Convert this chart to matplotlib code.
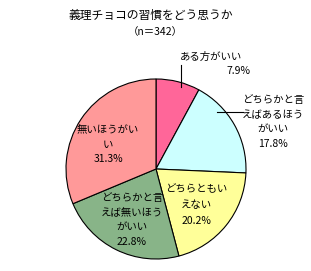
import matplotlib.pyplot as plt

plt.rcParams['font.family'] = ['Noto Sans CJK JP', 'DejaVu Sans']

title = "義理チョコの習慣をどう思うか"
subtitle = "（n＝342）"
labels = ["ある方がいい", "どちらかと言\nえばあるほう\nがいい", "どちらともい\nえない",
          "どちらかと言\nえば無いほう\nがいい", "無いほうがい\nい"]
shares = [7.9, 17.8, 20.2, 22.8, 31.3]
colors = ["#FF6699", "#CCFFFF", "#FFFF99", "#88B488", "#FF9999"]

W, H = 311, 271
fig = plt.figure(figsize=(W / 100, H / 100), dpi=100)
ax = fig.add_axes([0, 0, 1, 1])

cx, cy, r = 156, H - 169, 90
ax.pie(shares, colors=colors, startangle=90, counterclock=False,
       center=(cx, cy), radius=r,
       wedgeprops=dict(edgecolor="black", linewidth=0.8))
ax.set_xlim(0, W)
ax.set_ylim(0, H)
ax.set_aspect("equal")
ax.axis("off")


def py(y):
    return H - y


fs = 7.5
ax.text(151, py(15), title, ha="center", va="center", fontsize=8.5)
ax.text(155, py(32), subtitle, ha="center", va="center", fontsize=7.5)

# outside labels with leader lines
ax.plot([181, 181], [py(65), py(87)], color="black", lw=0.8)
ax.text(180, py(57), labels[0], ha="left", va="center", fontsize=fs)
ax.text(250, py(71), f"{shares[0]}%", ha="right", va="center", fontsize=fs)

ax.plot([217, 243], [py(112), py(112)], color="black", lw=0.8)
ax.text(273, py(122), labels[1] + f"\n{shares[1]}%", ha="center", va="center",
        fontsize=fs, linespacing=1.55)

# inside labels
ax.text(196, py(205), labels[2] + f"\n{shares[2]}%", ha="center", va="center",
        fontsize=fs, linespacing=1.75)
ax.text(132, py(220), labels[3] + f"\n{shares[3]}%", ha="center", va="center",
        fontsize=fs, linespacing=1.55)
ax.text(108, py(145), labels[4] + f"\n{shares[4]}%", ha="center", va="center",
        fontsize=fs, linespacing=1.55)

fig.savefig("out.png", dpi=100)
